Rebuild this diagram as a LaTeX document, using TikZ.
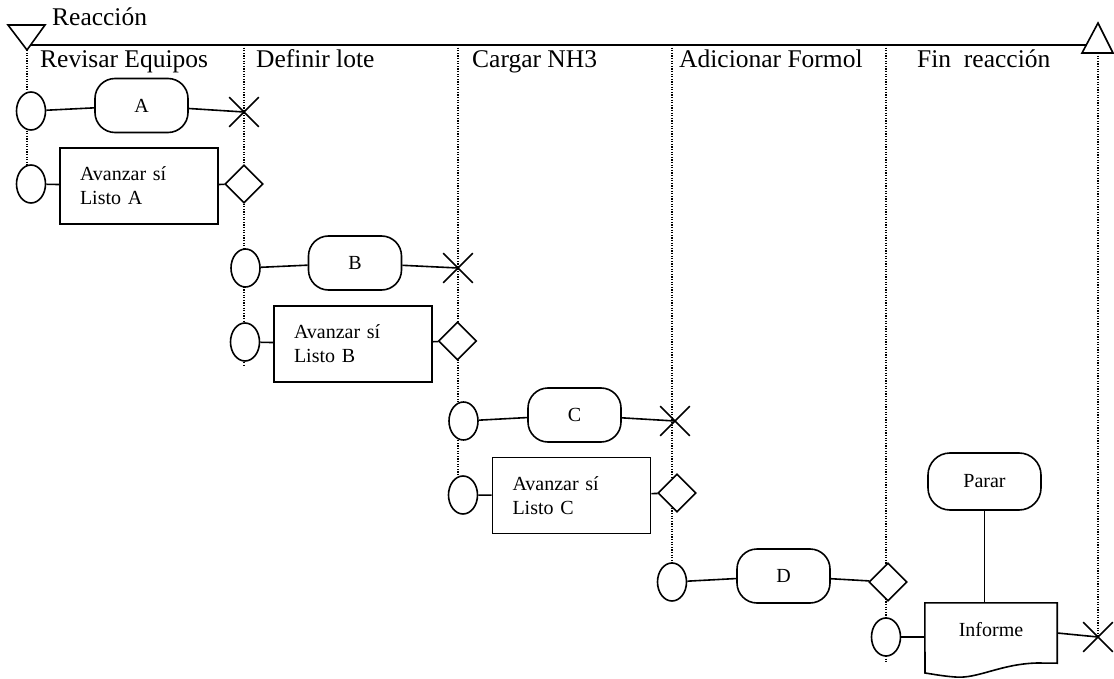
\documentclass[tikz,border=0pt]{standalone}
\usepackage{fontspec}
\setmainfont{Liberation Serif}
\usetikzlibrary{shapes.geometric,shapes.misc}
\begin{document}
\begin{tikzpicture}[x=1pt,y=-1pt,
  every node/.style={inner sep=0pt},
  lane/.style={line width=1.4pt, dash pattern=on 1.3pt off 1.3pt},
  conn/.style={line width=1.6pt},
  evt/.style={ellipse, draw, line width=1.6pt, fill=white, minimum width=29pt, minimum height=38pt},
  act/.style={rectangle, rounded corners=20pt, draw, line width=1.6pt, fill=white, minimum width=93pt, minimum height=54pt, font=\fontsize{20}{24}\selectfont},
  cond/.style={rectangle, draw, line width=1.6pt, fill=white, minimum width=158pt, minimum height=76pt, text width=118pt, inner xsep=20pt, align=left, font=\fontsize{20}{24}\selectfont},
  gate/.style={diamond, draw, line width=1.6pt, fill=white, minimum width=38pt, minimum height=38pt},
  xmark/.style={cross out, draw, line width=1.6pt, minimum size=28pt},
  doc/.style={rectangle, minimum width=132pt, minimum height=60pt, font=\fontsize{20}{24}\selectfont},
  lbl/.style={anchor=base west, font=\fontsize{25.5}{28}\selectfont},
]
\useasboundingbox (0,0) rectangle (1114,679);

% swimlane separators
\draw[lane] (27,50) -- (27,166);
\draw[lane] (244,45) -- (244,366);
\draw[lane] (458,45) -- (458,476);
\draw[lane] (672,45) -- (672,564);
\draw[lane] (886,45) -- (886,662);
\draw[lane] (1098,53) -- (1098,637);

% start / end triangles and top line
\draw[conn, line join=miter] (8,25) -- (45,25) -- (27,50) -- cycle;
\draw[conn, line join=miter] (1082,53) -- (1113,53) -- (1098,23) -- cycle;
\coordinate (tstart) at (31,45);
\coordinate (tend) at (1086,45);
\draw[conn] (tstart) -- (tend);

% labels
\node[lbl] (reac) at (52,26) {Reacción};
\node[lbl] (l1) at (40,68) {Revisar Equipos};
\node[lbl] (l2) at (256,68) {Definir lote};
\node[lbl] (l3) at (472,68) {Cargar NH3};
\node[lbl] (l4) at (679,68) {Adicionar Formol};
\node[lbl] (l5) at (917,68) {Fin\ \ reacción};

% Revisar Equipos
\node[evt] (cA1) at (31,111) {};
\node[act] (bA) at (141.5,105.5) {A};
\node[xmark] (xA) at (244,112) {};
\node[evt] (cA2) at (31,184) {};
\node[cond] (rA) at (139,186) {Avanzar sí\\Listo A};
\node[gate] (dA) at (244,184) {};

% Definir lote
\node[evt] (cB1) at (245.5,268) {};
\node[act] (bB) at (355,263) {B};
\node[xmark] (xB) at (458,268) {};
\node[evt] (cB2) at (245,342) {};
\node[cond] (rB) at (353,344) {Avanzar sí\\Listo B};
\node[gate] (dB) at (457.5,341) {};

% Cargar NH3
\node[evt] (cC1) at (463.5,421) {};
\node[act] (bC) at (574.5,415) {C};
\node[xmark] (xC) at (675,421) {};
\node[evt] (cC2) at (463,495) {};
\node[cond] (rC) at (571.5,495.5) {Avanzar sí\\Listo C};
\node[gate] (dC) at (677,493) {};

% Adicionar Formol
\node[evt] (cD) at (672,582) {};
\node[act] (bD) at (783.5,576) {D};
\node[gate] (dD) at (888,582) {};

% Fin reaccion
\node[act, minimum width=113pt, minimum height=57pt, rounded corners=22pt] (parar) at (984.5,481.5) {Parar};
\node[evt] (cE) at (886,637) {};
\node[doc] (inf) at (991,633) {\raisebox{8pt}{Informe}};
\draw[conn] (inf.north west) -- (inf.north east) -- (inf.south east) -- (1037,663)
  .. controls (1000,664) and (978,679) .. (955,677)
  .. controls (942,676) and (932,674) .. (925,673) -- cycle;
\node[xmark] (xE) at (1098,637) {};

% connectors
\draw[conn] (cA1) -- (bA);
\draw[conn] (bA) -- (xA.center);
\draw[conn] (cA2) -- (rA);
\draw[conn] (rA) -- (dA);
\draw[conn] (cB1) -- (bB);
\draw[conn] (bB) -- (xB.center);
\draw[conn] (cB2) -- (rB);
\draw[conn] (rB) -- (dB);
\draw[conn] (cC1) -- (bC);
\draw[conn] (bC) -- (xC.center);
\draw[conn] (cC2) -- (rC);
\draw[conn] (rC) -- (dC);
\draw[conn] (cD) -- (bD);
\draw[conn] (bD) -- (dD);
\draw[conn] (cE.east) -- (cE.east -| inf.west);
\draw[conn] (inf.east) -- (xE.center);
\draw[conn] (parar.south) -- (parar.south |- inf.north);
\end{tikzpicture}
\end{document}
